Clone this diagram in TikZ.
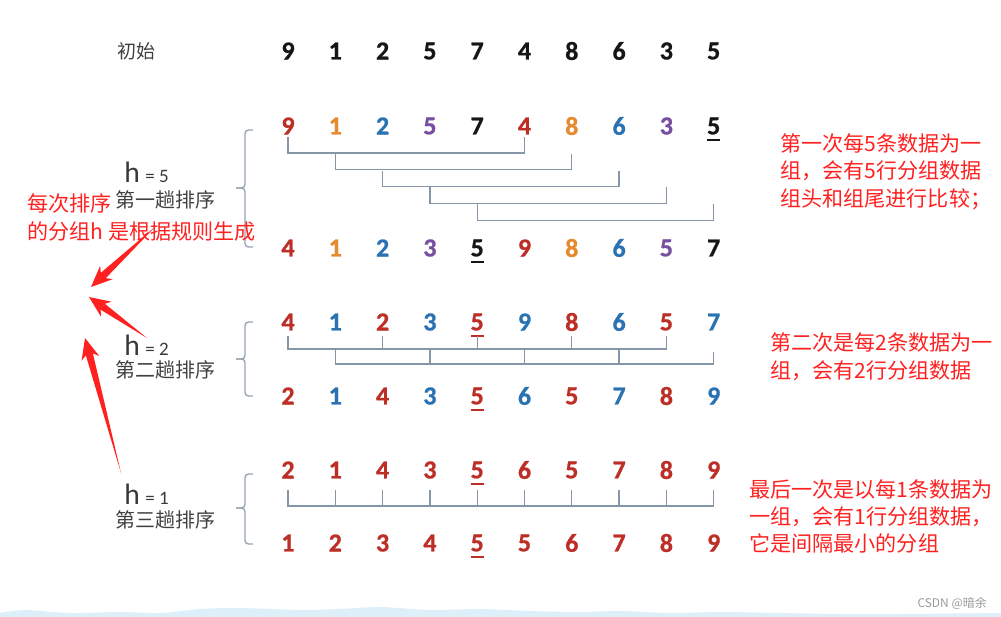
\documentclass[tikz,border=0pt]{standalone}
\usepackage{fontspec}
\usepackage{xcolor}
\usetikzlibrary{calc}
\newfontfamily\numfont{Carlito}[BoldFeatures={FakeBold=0.8}]
\newfontfamily\cjk{Noto Sans CJK SC}
\definecolor{NumRed}{HTML}{BC2E26}
\definecolor{NumOrange}{HTML}{E58A2E}
\definecolor{NumBlue}{HTML}{2A72B2}
\definecolor{NumPurple}{HTML}{784FA0}
\definecolor{NumInk}{HTML}{161616}
\definecolor{Label}{HTML}{404040}
\definecolor{Bar}{HTML}{8696A9}
\definecolor{Note}{HTML}{FF2020}
\definecolor{Wave}{HTML}{D4ECF8}
\definecolor{Mark}{HTML}{9A9A9A}
\newcommand\uln[1]{\setbox0\hbox{#1}\rlap{\smash{\rule[-4.6pt]{\wd0}{1.6pt}}}#1}
\newcommand\redwedge[2]{%
  \coordinate (wneck) at ($(#2)!12pt!(#1)$);
  \coordinate (wbarb) at ($(#2)!15pt!(#1)$);
  \fill[pointer] (#1) -- ($(wneck)!2.6pt!90:(#2)$) -- ($(wbarb)!6.5pt!90:(#2)$) -- (#2)
    -- ($(wbarb)!6.5pt!-90:(#2)$) -- ($(wneck)!2.6pt!-90:(#2)$) -- cycle;}
\tikzset{
  num/.style={font=\numfont\bfseries\fontsize{18.5}{19}\selectfont,inner sep=0pt},
  start/.style={num,text=NumInk},
  pass/.style={font=\cjk\fontsize{14.2}{16}\selectfont,text=Label,inner sep=0pt,anchor=west},
  hval/.style={text=NumInk!85,inner sep=0pt,anchor=base west},
  note/.style={font=\cjk\fontsize{15}{19.5}\selectfont,text=Note,align=left,inner sep=0pt,anchor=west},
  grp/.style={draw=Bar,line width=0.9pt},
  brc/.style={draw=Bar!85,line width=1pt,rounded corners=2.5pt},
  pointer/.style={fill=Note}
}
\begin{document}
\begin{tikzpicture}[x=0.025cm,y=-0.025cm]
  \useasboundingbox (0,0) rectangle (1001,617);
  \fill[Wave!80] (0,617) -- plot[smooth] coordinates {(0,613) (25,610) (70,613) (120,612) (160,613) (200,609) (240,608) (300,610) (340,609) (380,607) (430,610) (480,609) (530,611) (580,612) (620,611) (670,613) (720,612) (780,613) (840,614) (900,614) (1001,613)} -- (1001,617) -- cycle;

  \node[pass,font=\cjk\fontsize{13.5}{15}\selectfont] (initlbl) at (117,51) {初始};
  \foreach \d [count=\i from 0] in {9,1,2,5,7,4,8,6,3,5}
    \node[start] (init\i) at ({288+47.3*\i},51) {\d};

  \foreach \d/\c [count=\i from 0] in {9/NumRed,1/NumOrange,2/NumBlue,5/NumPurple,7/NumInk,4/NumRed,8/NumOrange,6/NumBlue,3/NumPurple,\uln5/NumInk}
    \node[num,text=\c] (hfive\i) at ({288+47.3*\i},126) {\d};
  \foreach \d/\c [count=\i from 0] in {4/NumRed,1/NumOrange,2/NumBlue,3/NumPurple,\uln5/NumInk,9/NumRed,8/NumOrange,6/NumBlue,5/NumPurple,7/NumInk}
    \node[num,text=\c] (hfiveout\i) at ({288+47.3*\i},248) {\d};
  \foreach \i in {0,...,4}{
    \pgfmathtruncatemacro\j{\i+5}
    \draw[grp] ($(hfive\i)+(0,{11+16.8*\i})$) -- ($(hfive\i)+(0,{27+16.8*\i})$) -| ($(hfive\j)+(0,{11+16.8*\i})$);
  }

  \foreach \d/\c [count=\i from 0] in {4/NumRed,1/NumBlue,2/NumRed,3/NumBlue,\uln5/NumRed,9/NumBlue,8/NumRed,6/NumBlue,5/NumRed,7/NumBlue}
    \node[num,text=\c] (htwo\i) at ({288+47.3*\i},322) {\d};
  \foreach \d/\c [count=\i from 0] in {2/NumRed,1/NumBlue,4/NumRed,3/NumBlue,\uln5/NumRed,6/NumBlue,5/NumRed,7/NumBlue,8/NumRed,9/NumBlue}
    \node[num,text=\c] (htwoout\i) at ({288+47.3*\i},396) {\d};
  \draw[grp] ($(htwo0)+(0,14)$) -- ($(htwo0)+(0,27)$) -- ($(htwo8)+(0,27)$) -- ($(htwo8)+(0,14)$);
  \foreach \i in {2,4,6}
    \draw[grp] ($(htwo\i)+(0,14)$) -- ($(htwo\i)+(0,27)$);
  \draw[grp] ($(htwo1)+(0,27)$) -- ($(htwo1)+(0,42)$) -- ($(htwo9)+(0,42)$) -- ($(htwo9)+(0,30)$);
  \foreach \i in {3,5,7}
    \draw[grp] ($(htwo\i)+(0,27)$) -- ($(htwo\i)+(0,42)$);

  \foreach \d [count=\i from 0] in {2,1,4,3,\uln5,6,5,7,8,9}
    \node[num,text=NumRed] (hone\i) at ({288+47.3*\i},470) {\d};
  \foreach \d [count=\i from 0] in {1,2,3,4,\uln5,5,6,7,8,9}
    \node[num,text=NumRed] (honeout\i) at ({288+47.3*\i},543) {\d};
  \draw[grp] ($(hone0)+(0,20)$) -- ($(hone0)+(0,36)$) -- ($(hone9)+(0,36)$) -- ($(hone9)+(0,20)$);
  \foreach \i in {1,...,8}
    \draw[grp] ($(hone\i)+(0,20)$) -- ($(hone\i)+(0,36)$);

  \draw[brc] (253,130) -- (245,130) -- (245,188) -- (236,188);
  \draw[brc] (236,188) -- (245,188) -- (245,247) -- (253,247);
  \draw[brc] (253,322) -- (245,322) -- (245,359) -- (236,359);
  \draw[brc] (236,359) -- (245,359) -- (245,396) -- (253,396);
  \draw[brc] (253,474) -- (245,474) -- (245,508) -- (236,508);
  \draw[brc] (236,508) -- (245,508) -- (245,544) -- (253,544);

  \node[hval] (hfivelbl) at (124,183) {{\numfont\fontsize{21}{21}\selectfont h}\hspace{4pt}{\numfont\fontsize{13.5}{13.5}\selectfont = 5}};
  \node[pass] (passone) at (115,200) {第一趟排序};
  \node[hval] (htwolbl) at (124,355) {{\numfont\fontsize{21}{21}\selectfont h}\hspace{4pt}{\numfont\fontsize{13.5}{13.5}\selectfont = 2}};
  \node[pass] (passtwo) at (115,370) {第二趟排序};
  \node[hval] (honelbl) at (124,504) {{\numfont\fontsize{21}{21}\selectfont h}\hspace{4pt}{\numfont\fontsize{13.5}{13.5}\selectfont = 1}};
  \node[pass] (passthree) at (115,520) {第三趟排序};

  \node[note,font=\cjk\fontsize{15}{20.5}\selectfont] (why) at (27,217.5) {每次排序\\的分组h 是根据规则生成};
  \node[note] (ruleA) at (780,171.5) {第一次每5条数据为一\\组，会有5行分组数据\\组头和组尾进行比较；};
  \node[note] (ruleB) at (770,356.5) {第二次是每2条数据为一\\组，会有2行分组数据};
  \node[note] (ruleC) at (749,516.5) {最后一次是以每1条数据为\\一组，会有1行分组数据，\\它是间隔最小的分组};

  \coordinate (tailA) at (156,226);
  \coordinate (tipA) at (91,287);
  \coordinate (tailB) at (147,338);
  \coordinate (tipB) at (89,297);
  \coordinate (tailC) at (121,473);
  \coordinate (tipC) at (85,338);
  \redwedge{tailA}{tipA}
  \redwedge{tailB}{tipB}
  \redwedge{tailC}{tipC}

  \node[font=\cjk\fontsize{8.5}{9}\selectfont,text=Mark,anchor=east,inner sep=0pt] (mark) at (987,603) {CSDN @暗余};
\end{tikzpicture}
\end{document}
